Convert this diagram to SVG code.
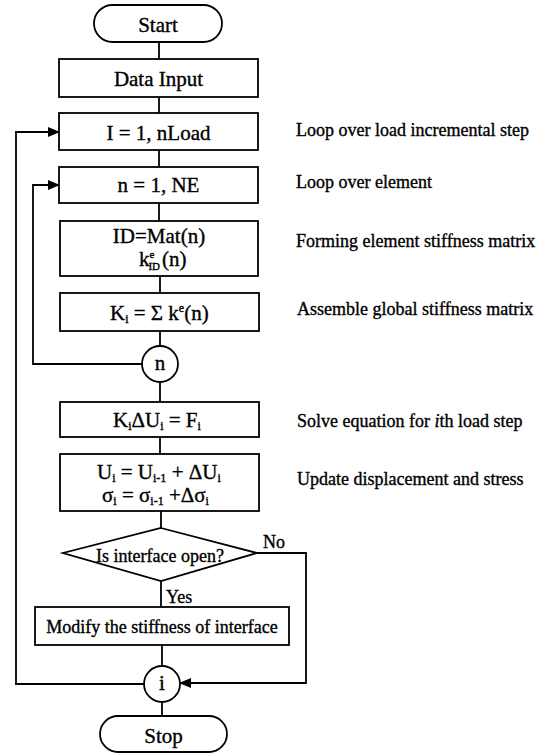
<svg xmlns="http://www.w3.org/2000/svg" width="543" height="753" viewBox="0 0 543 753">
<defs>
<marker id="ah" markerWidth="12" markerHeight="10" refX="11" refY="5" orient="auto" markerUnits="userSpaceOnUse">
<path d="M0,0 L12,5 L0,10 Z" fill="#000"/>
</marker>
<style>
.box{fill:#fff;stroke:#000;stroke-width:1.8}
.ln{fill:none;stroke:#000;stroke-width:1.8}
text{font-family:"Liberation Serif","Times New Roman",serif;fill:#000;stroke:#000;stroke-width:0.35}
.t{font-size:21px;text-anchor:middle}
.s{font-size:18px}
.m{font-size:21px}
.sm{font-size:12px}
.xs{font-size:11px}
</style>
</defs>
<rect width="543" height="753" fill="#fff"/>
<g id="connectors">
<line class="ln" x1="159" y1="42" x2="159" y2="59"/>
<line class="ln" x1="159" y1="97" x2="159" y2="113"/>
<line class="ln" x1="159" y1="150" x2="159" y2="167"/>
<line class="ln" x1="159" y1="203" x2="159" y2="221"/>
<line class="ln" x1="160" y1="276" x2="160" y2="293"/>
<line class="ln" x1="160" y1="331" x2="160" y2="346"/>
<line class="ln" x1="160" y1="382" x2="160" y2="402"/>
<line class="ln" x1="160" y1="437" x2="160" y2="454"/>
<line class="ln" x1="161" y1="511" x2="161" y2="528"/>
<line class="ln" x1="161" y1="581" x2="161" y2="607"/>
<line class="ln" x1="162" y1="645" x2="162" y2="666"/>
<line class="ln" x1="162" y1="702" x2="162" y2="716"/>
<polyline class="ln" points="142,364 33,364 33,185 59,185" marker-end="url(#ah)"/>
<polyline class="ln" points="144,684 16,684 16,132 59,132" marker-end="url(#ah)"/>
<polyline class="ln" points="257,553 306,553 306,683 180,683" marker-end="url(#ah)"/>
<text class="s" x="263" y="548">No</text>
<text class="s" x="166" y="603">Yes</text>
</g>
<g id="start">
<rect class="box" x="94" y="5" width="128" height="37" rx="18.5"/>
<text class="t" x="158" y="32">Start</text>
</g>
<g id="data-input">
<rect class="box" x="59" y="59" width="199" height="38"/>
<text class="t" x="158.5" y="86">Data Input</text>
</g>
<g id="load-loop">
<rect class="box" x="59" y="113" width="199" height="37"/>
<text class="t" x="158.5" y="140">I = 1, nLoad</text>
<text class="s" x="296" y="136">Loop over load incremental step</text>
</g>
<g id="element-loop">
<rect class="box" x="59" y="167" width="199" height="36"/>
<text class="t" x="158.5" y="192">n = 1, NE</text>
<text class="s" x="296" y="188">Loop over element</text>
</g>
<g id="element-stiffness">
<rect class="box" x="60" y="221" width="198" height="55"/>
<text class="t" x="159" y="243">ID=Mat(n)</text>
<text class="m" x="139" y="266">k<tspan class="xs" dy="-8">e</tspan><tspan class="xs" dx="-6" dy="12">ID</tspan><tspan dx="2" dy="-4">(n)</tspan></text>
<text class="s" x="296" y="247">Forming element stiffness matrix</text>
</g>
<g id="assemble">
<rect class="box" x="60" y="293" width="199" height="38"/>
<text class="m" x="110" y="320">K<tspan class="sm" dy="3">i</tspan><tspan dy="-3"> = Σ k</tspan><tspan class="sm" dy="-8">e</tspan><tspan dy="8">(n)</tspan></text>
<text class="s" x="297" y="315">Assemble global stiffness matrix</text>
</g>
<g id="n-node">
<circle class="box" cx="160" cy="364" r="18"/>
<text class="t" x="160" y="370">n</text>
</g>
<g id="solve">
<rect class="box" x="60" y="402" width="199" height="35"/>
<text class="m" x="113" y="427">K<tspan class="sm" dy="3">i</tspan><tspan dy="-3">ΔU</tspan><tspan class="sm" dy="3">i</tspan><tspan dy="-3"> = F</tspan><tspan class="sm" dy="3">i</tspan></text>
<text class="s" x="297" y="427">Solve equation for <tspan font-style="italic">i</tspan>th load step</text>
</g>
<g id="update">
<rect class="box" x="60" y="454" width="199" height="57"/>
<text class="m" x="97" y="479">U<tspan class="sm" dy="3">i</tspan><tspan dy="-3"> = U</tspan><tspan class="sm" dy="3">i-1</tspan><tspan dy="-3"> + ΔU</tspan><tspan class="sm" dy="3">i</tspan></text>
<text class="m" x="102" y="502">σ<tspan class="sm" dy="3">i</tspan><tspan dy="-3"> = σ</tspan><tspan class="sm" dy="3">i-1</tspan><tspan dy="-3"> +Δσ</tspan><tspan class="sm" dy="3">i</tspan></text>
<text class="s" x="297" y="485">Update displacement and stress</text>
</g>
<g id="decision">
<polygon class="box" points="161,528 257,553 161,581 63,553"/>
<text class="s" x="160" y="562" text-anchor="middle">Is interface open?</text>
</g>
<g id="modify">
<rect class="box" x="35" y="607" width="254" height="38"/>
<text class="s" x="162" y="633" text-anchor="middle">Modify the stiffness of interface</text>
</g>
<g id="i-node">
<circle class="box" cx="162" cy="684" r="18"/>
<text class="t" x="162" y="690">i</text>
</g>
<g id="stop">
<rect class="box" x="100" y="716" width="127" height="36" rx="18"/>
<text class="t" x="163.5" y="743">Stop</text>
</g>
</svg>
